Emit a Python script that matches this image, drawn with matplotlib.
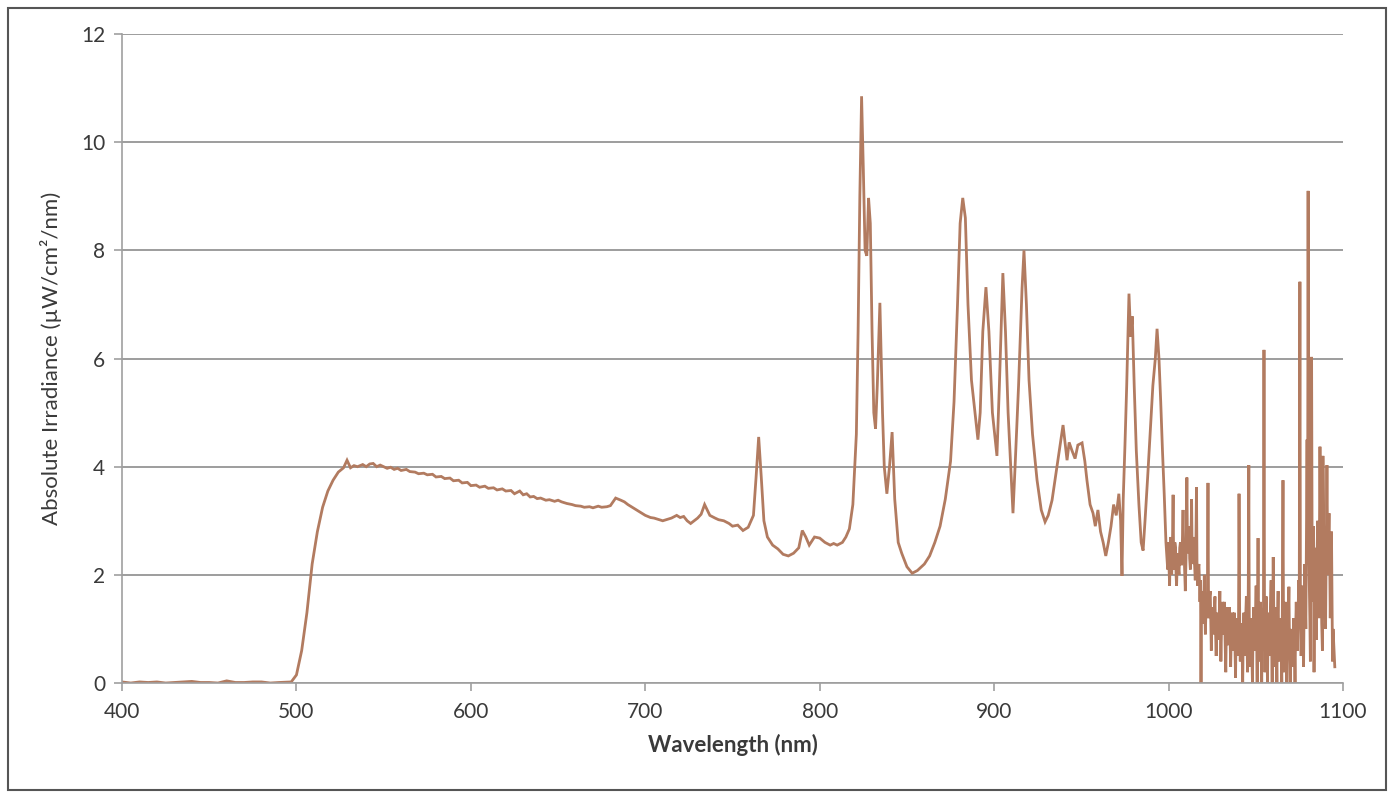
import numpy as np
import matplotlib
matplotlib.use("Agg")
import matplotlib.pyplot as plt
from matplotlib.patches import Rectangle

plt.rcParams['font.family'] = ['Lato', 'DejaVu Sans']

# visible part: flat baseline, steep rise at 500 nm, slow decay
wl_vis = [400, 405, 410, 415, 420, 425, 430, 435, 440, 445, 450, 455, 460, 465, 470, 475,
          480, 485, 490, 497, 500, 503, 506, 509,
          512, 515, 518, 521, 524, 527, 529, 531, 533, 535, 538, 540, 542, 544, 546, 548,
          550, 552, 554, 556, 558, 560, 563,
          565, 568, 570, 573, 575, 578, 580, 583, 585, 588, 590, 593, 595, 598, 600, 603,
          605, 608, 610, 613, 615, 618, 620, 623, 625, 628, 630, 632, 634,
          636, 638, 640, 643, 645, 648, 650, 652, 655, 658, 660, 663, 665, 668, 670, 673,
          675, 678, 680, 683, 686, 688, 690, 693, 695, 698, 700,
          703, 705, 708, 710, 713, 715, 718, 720, 722, 724, 726, 728, 730, 732, 734, 737,
          740, 742, 745, 748, 750, 753, 756, 759,
          762, 763.5, 765, 766.5, 768, 770, 773, 776, 779, 782, 785, 788, 790, 792,
          794, 797, 800, 803, 806, 808, 810, 813, 815, 817, 819]
irr_vis = [0.02, 0.0, 0.02, 0.01, 0.02, 0.0, 0.01, 0.02, 0.03, 0.01, 0.01, 0.0, 0.04, 0.01,
           0.01, 0.02, 0.02, 0.0, 0.01, 0.02, 0.15, 0.6, 1.3, 2.2,
           2.8, 3.25, 3.55, 3.75, 3.9, 3.98, 4.12, 3.98, 4.02, 4.0, 4.04, 4.0, 4.05, 4.06,
           4.0, 4.03, 4.0, 3.97, 3.99, 3.95, 3.97, 3.93, 3.95,
           3.91, 3.9, 3.87, 3.88, 3.85, 3.86, 3.81, 3.82, 3.78, 3.79, 3.74, 3.75, 3.7, 3.71,
           3.65, 3.66, 3.62, 3.64, 3.6, 3.61, 3.57, 3.59, 3.55, 3.56, 3.5, 3.55, 3.48, 3.5,
           3.44, 3.45, 3.41, 3.42, 3.38, 3.39, 3.36, 3.38, 3.35, 3.32, 3.3, 3.28, 3.27, 3.25,
           3.26, 3.24, 3.27, 3.25, 3.26, 3.28, 3.42, 3.38, 3.35, 3.3, 3.24, 3.2, 3.14, 3.1,
           3.06, 3.05, 3.02, 3.0, 3.03, 3.05, 3.1, 3.06, 3.08, 3.0, 2.95, 3.0, 3.05, 3.12,
           3.3, 3.1, 3.05, 3.02, 3.0, 2.95, 2.9, 2.92, 2.82, 2.88,
           3.1, 3.8, 4.55, 3.8, 3.0, 2.7, 2.55, 2.48, 2.38, 2.35, 2.4, 2.5, 2.82, 2.7,
           2.55, 2.7, 2.68, 2.6, 2.55, 2.58, 2.55, 2.6, 2.7, 2.85, 3.3]

# near infrared emission lines
wl_nir = [821, 822, 823, 824, 825, 826, 827, 828, 829, 830, 831, 832, 833, 834.5, 836,
          837, 838.5, 840, 841.5, 843, 845, 847, 850, 853, 856, 860, 863, 866, 869,
          872, 875, 877, 879, 880.5, 882, 883.5, 885, 887, 889, 890.7, 892, 893.5, 895.3,
          897, 899, 901.6, 903, 905, 906.5, 908, 909.5, 910.8, 912, 914, 916, 917.1,
          918.5, 920, 922, 924.6, 927, 929.2, 931, 933.2, 936, 939.5, 941.8, 943, 944.6,
          946.4, 948, 950.4, 952, 953.2, 955, 956.7, 958, 959.5, 961, 962.5, 964, 965.5,
          967, 968.5, 970, 971.5, 972.5, 973.3, 974, 975, 976, 977.3, 978.3, 979.2, 980.3,
          981.5, 983, 984.3, 985.4, 986.5, 988, 989.4, 991, 992.4, 993.4, 994.5, 995.5,
          996.5, 997.5, 998.5, 999.5]
irr_nir = [4.6, 6.5, 9.0, 10.85, 9.5, 8.0, 7.9, 8.97, 8.5, 6.5, 5.0, 4.7, 5.5, 7.03, 5.0,
           4.0, 3.5, 4.0, 4.64, 3.4, 2.6, 2.4, 2.15, 2.03, 2.08, 2.2, 2.35, 2.6, 2.9,
           3.4, 4.1, 5.2, 7.0, 8.5, 8.97, 8.6, 7.0, 5.6, 5.0, 4.5, 5.0, 6.5, 7.32,
           6.5, 5.0, 4.2, 5.5, 7.58, 6.5, 5.0, 4.0, 3.14, 4.0, 5.5, 7.3, 8.0,
           7.0, 5.6, 4.6, 3.75, 3.2, 2.98, 3.1, 3.38, 4.0, 4.77, 4.12, 4.45, 4.3,
           4.15, 4.4, 4.44, 4.1, 3.75, 3.3, 3.14, 2.9, 3.2, 2.8, 2.6, 2.35, 2.6,
           2.9, 3.3, 3.1, 3.5, 3.0, 1.98, 3.4, 4.4, 5.5, 7.2, 6.4, 6.78, 5.5,
           4.3, 3.3, 2.6, 2.45, 3.0, 3.8, 4.6, 5.5, 6.0, 6.55, 6.0, 5.2,
           4.3, 3.5, 2.6, 2.1]

# noisy detector tail above 1000 nm
wl_tail = [1000, 1000.3, 1000.6, 1000.9, 1001.2, 1001.5, 1001.8, 1002.2, 1002.6, 1002.9,
           1003.2, 1003.6, 1004, 1004.3, 1004.6, 1005, 1005.4, 1005.7, 1006, 1006.4, 1006.8,
           1007.1, 1007.5, 1007.9, 1008.3, 1008.6, 1009, 1009.3, 1009.6, 1010, 1010.5,
           1010.8, 1011.1, 1011.5, 1011.8, 1012.1, 1012.5, 1012.8, 1013.2, 1013.5, 1013.9,
           1014.2, 1014.6, 1014.9, 1015.3, 1015.6, 1016, 1016.3, 1016.7, 1017, 1017.4,
           1017.7, 1018, 1018.3, 1018.6, 1018.9, 1019.2, 1019.5, 1019.9, 1020.2, 1020.5,
           1020.8, 1021.1, 1021.4, 1021.8, 1022.2, 1022.6, 1022.9, 1023.2, 1023.5, 1023.9,
           1024.2, 1024.5, 1024.8, 1025.2, 1025.5, 1025.9, 1026.2, 1026.6, 1026.9, 1027.3,
           1027.6, 1028, 1028.3, 1028.7, 1029, 1029.4, 1029.7, 1030, 1030.3, 1030.7,
           1031, 1031.4, 1031.7, 1032.1, 1032.4, 1032.8, 1033.1, 1033.5, 1033.8, 1034.2,
           1034.5, 1034.9, 1035.2, 1035.6, 1035.9, 1036.3, 1036.6, 1037, 1037.3, 1037.7,
           1038, 1038.4, 1038.7, 1039.1, 1039.4, 1039.8, 1040.1, 1040.4, 1040.8, 1041.1,
           1041.4, 1041.8, 1042.1, 1042.5, 1042.8, 1043.2, 1043.5, 1043.9, 1044.2, 1044.6,
           1044.9, 1045.3, 1045.6, 1046, 1046.3, 1046.7, 1047, 1047.4, 1047.7, 1048.1,
           1048.4, 1048.8, 1049.1, 1049.5, 1049.8, 1050.2, 1050.5, 1050.8, 1051.3, 1051.6,
           1052, 1052.3, 1052.7, 1053, 1053.4, 1053.7, 1054, 1054.4, 1054.7, 1055,
           1055.3, 1055.7, 1056, 1056.3, 1056.7, 1057, 1057.4, 1057.7, 1058.1, 1058.4,
           1058.8, 1059.1, 1059.4, 1059.7, 1060, 1060.4, 1060.7, 1061, 1061.4, 1061.7,
           1062.1, 1062.4, 1062.8, 1063.1, 1063.5, 1063.8, 1064.2, 1064.5, 1064.9, 1065.2,
           1065.6, 1065.9, 1066.3, 1066.6, 1067, 1067.3, 1067.7, 1068, 1068.3, 1068.7,
           1069, 1069.3, 1069.7, 1070, 1070.4, 1070.7, 1071.1, 1071.4, 1071.8, 1072.1,
           1072.5, 1072.8, 1073.2, 1073.5, 1073.9, 1074.2, 1074.6, 1074.9, 1075.3, 1075.6,
           1076, 1076.3, 1076.7, 1077, 1077.4, 1077.7, 1078, 1078.4, 1078.7, 1079, 1079.4,
           1079.7, 1080, 1080.3, 1080.6, 1081, 1081.3, 1081.6, 1082, 1082.3, 1082.7, 1083,
           1083.4, 1083.7, 1084.1, 1084.4, 1084.8, 1085.1, 1085.5, 1085.8, 1086.2, 1086.5,
           1086.8, 1087.2, 1087.5, 1087.8, 1088.2, 1088.5, 1088.9, 1089.3, 1089.6, 1090,
           1090.4, 1090.8, 1091.1, 1091.4, 1091.7, 1092, 1092.4, 1092.7, 1093, 1093.4,
           1093.7, 1094, 1094.3, 1094.6, 1095, 1095.3]
irr_tail = [2.6, 2.1, 1.8, 2.4, 2.7, 2.2, 2.0, 2.5, 3.48, 2.3,
            2.1, 2.6, 2.5, 2.0, 1.8, 2.3, 2.4, 2.1, 2.0, 2.5, 2.6,
            2.2, 2.2, 2.6, 3.2, 2.5, 2.3, 2.0, 1.7, 2.3, 3.8,
            2.6, 2.4, 2.7, 2.9, 2.3, 2.1, 2.5, 3.4, 2.4, 2.2,
            2.5, 2.7, 2.2, 1.9, 2.3, 3.62, 2.2, 1.8, 2.1, 2.2,
            1.9, 1.5, 1.9, 0.0, 1.7, 1.6, 1.3, 1.1, 1.5, 2.0,
            1.4, 0.9, 1.3, 1.5, 1.2, 3.7, 1.5, 1.2, 1.6, 1.7,
            1.1, 0.6, 1.2, 1.4, 0.9, 1.0, 1.3, 1.6, 1.0, 0.5,
            1.1, 1.3, 0.9, 0.8, 1.2, 1.7, 1.1, 0.4, 0.9, 1.2,
            1.5, 0.9, 1.3, 1.5, 0.8, 0.2, 0.9, 1.1, 1.4, 0.7,
            1.2, 1.4, 0.9, 0.3, 0.8, 1.0, 1.3, 0.6, 1.1, 1.3,
            0.8, 0.1, 0.9, 1.2, 1.0, 0.5, 1.1, 3.5, 1.0, 0.4,
            0.9, 1.1, 0.7, 0.0, 0.9, 1.3, 0.9, 0.5, 1.2, 1.6,
            0.8, 0.2, 1.0, 4.03, 0.9, 0.3, 0.8, 1.2, 0.6, 0.0,
            0.9, 1.4, 1.0, 0.6, 1.2, 1.8, 0.9, 0.0, 2.68, 0.8,
            0.4, 1.0, 1.5, 0.7, 0.0, 0.9, 1.2, 1.4, 6.16, 1.3,
            0.2, 0.9, 1.6, 1.0, 0.0, 0.9, 1.3, 0.8, 0.5, 1.4,
            1.9, 0.7, 0.0, 1.1, 2.33, 1.0, 0.3, 0.9, 1.4, 0.8,
            0.0, 1.1, 1.7, 0.9, 0.4, 1.0, 1.2, 0.7, 0.0, 1.2,
            3.75, 1.0, 0.2, 0.9, 1.5, 0.8, 0.0, 0.7, 1.1, 1.3,
            1.78, 0.8, 0.0, 0.7, 1.0, 0.6, 0.3, 0.9, 1.2, 0.8,
            0.0, 0.9, 1.5, 1.0, 0.6, 1.2, 1.9, 1.1, 7.42, 1.2,
            0.5, 1.3, 1.8, 0.9, 0.3, 1.4, 2.2, 1.5, 1.0, 2.6, 4.5,
            2.2, 9.1, 3.0, 2.0, 1.2, 0.4, 2.8, 6.03, 2.4, 1.5, 2.9,
            0.2, 1.9, 2.5, 1.4, 0.8, 2.3, 3.0, 2.1, 1.2, 2.7,
            4.37, 2.6, 2.0, 1.1, 0.6, 4.2, 2.9, 2.5, 1.6, 1.0,
            2.6, 4.03, 2.8, 2.0, 2.7, 3.14, 2.2, 1.2, 2.0, 2.8,
            1.5, 0.4, 1.0, 0.8, 0.5, 0.3]

wavelength = np.array(wl_vis + wl_nir + wl_tail)
irradiance = np.array(irr_vis + irr_nir + irr_tail)

fig = plt.figure(figsize=(13.93, 7.92), dpi=100)
ax = fig.add_axes([0.0876, 0.1376, 0.8765, 0.8194])

ax.plot(wavelength, irradiance, color="#b27b60", lw=2.0, solid_joinstyle="miter")

ax.set_xlim(400, 1100)
ax.set_ylim(0, 12)
ax.set_xticks(range(400, 1101, 100))
ax.set_yticks(range(0, 13, 2))

ax.grid(axis="y", color="#8c8c8c", lw=1.2)
ax.set_axisbelow(True)
for side in ["top", "right"]:
    ax.spines[side].set_visible(False)
for side in ["left", "bottom"]:
    ax.spines[side].set_color("#a0a0a0")
    ax.spines[side].set_linewidth(1.2)
ax.tick_params(axis="both", colors="#a0a0a0", labelcolor="#3a3a3a", labelsize=15,
               length=6, width=1.2)
ax.tick_params(axis="y", pad=6)
ax.tick_params(axis="x", pad=8)

ax.set_xlabel("Wavelength (nm)", fontsize=16, fontweight="bold", color="#3a3a3a", labelpad=8)
ax.set_ylabel("Absolute Irradiance (µW/cm²/nm)", fontsize=16, color="#3a3a3a", labelpad=14)

# outer frame around the whole chart
fig.patches.append(Rectangle((0.006, 0.003), 0.989, 0.987, transform=fig.transFigure,
                             fill=False, edgecolor="#555555", lw=1.5))

fig.savefig("out.png", dpi=100)
